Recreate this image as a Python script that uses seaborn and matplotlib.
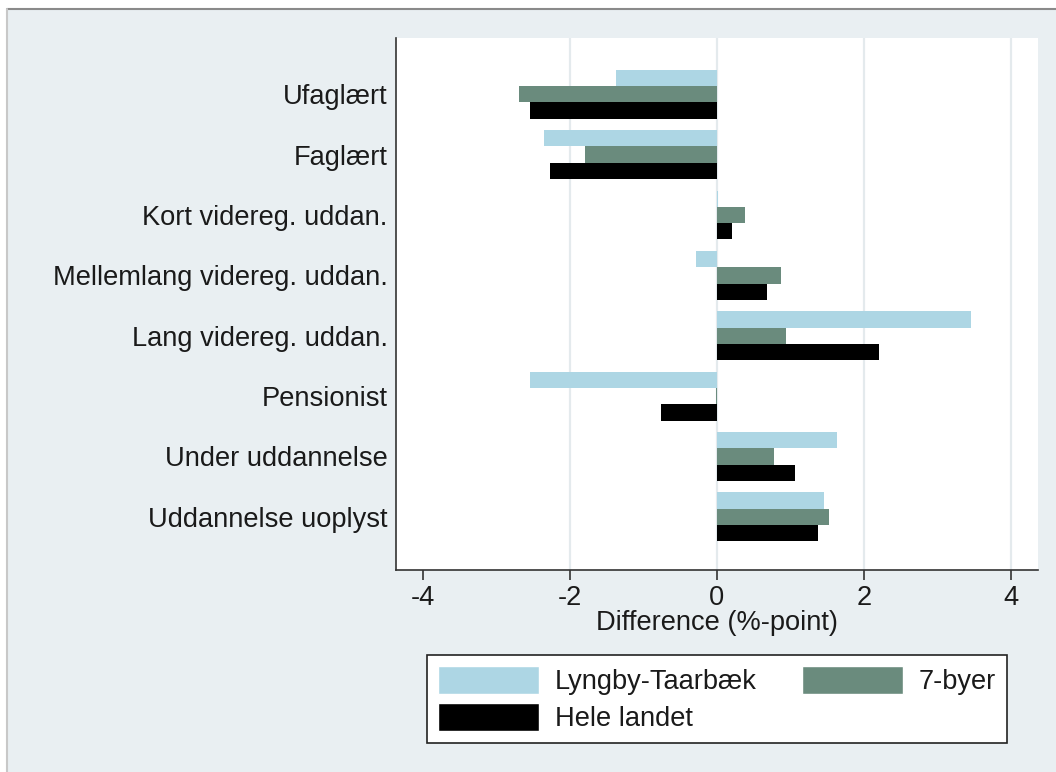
import numpy as np
import pandas as pd
import matplotlib
matplotlib.use("Agg")
import matplotlib.pyplot as plt
from matplotlib.patches import Rectangle, Patch
import seaborn as sns

categories = ["Ufaglært", "Faglært", "Kort videreg. uddan.", "Mellemlang videreg. uddan.",
              "Lang videreg. uddan.", "Pensionist", "Under uddannelse", "Uddannelse uoplyst"]
series = ["Lyngby-Taarbæk", "7-byer", "Hele landet"]
lyngby = [-1.38, -2.36, 0.01, -0.29, 3.46, -2.55, 1.63, 1.46]
syv_byer = [-2.69, -1.80, 0.38, 0.87, 0.94, -0.02, 0.78, 1.52]
hele_landet = [-2.54, -2.28, 0.21, 0.68, 2.20, -0.76, 1.06, 1.38]
xticks = [-4, -2, 0, 2, 4]

colors = ["#ADD6E4", "#6A8B7D", "#000000"]
bg = "#E9EFF2"
fs = 19.6

df = pd.DataFrame({
    "kategori": categories * 3,
    "gruppe": np.repeat(series, len(categories)),
    "diff": lyngby + syv_byer + hele_landet,
})

sns.set_style("white")
plt.rcParams["font.family"] = ["Liberation Sans", "DejaVu Sans"]
plt.rcParams["font.size"] = fs

fig = plt.figure(figsize=(10.56, 7.72), dpi=100)
fig.patch.set_facecolor("white")
# stata-like outer background with thin border at top/left
fig.patches.append(Rectangle((7/1056, 0), 1 - 7/1056, 1 - 9/772, transform=fig.transFigure,
                             facecolor=bg, edgecolor="none", zorder=-10))
fig.add_artist(plt.Line2D([7/1056, 1], [1 - 9/772, 1 - 9/772], color="#8a8a8a", lw=1.5))
fig.add_artist(plt.Line2D([7/1056, 7/1056], [0, 1 - 9/772], color="#c8c8c8", lw=1.5))

ax = fig.add_axes([396/1056, 1 - 570/772, (1038 - 396)/1056, (570 - 37.5)/772])
ax.set_facecolor("white")
sns.barplot(data=df, y="kategori", x="diff", hue="gruppe", hue_order=series,
            order=categories, palette=colors, saturation=1, orient="h", width=0.81,
            linewidth=0, errorbar=None, ax=ax, zorder=3)

ax.set_xlim(-4.37, 4.37)
ax.set_ylim(7.88, -0.94)
ax.set_xticks(xticks)
ax.set_xticklabels([str(t) for t in xticks])
ax.grid(axis="x", color="#E4EAED", lw=1.6, zorder=0)
ax.xaxis.get_gridlines()[0].set_visible(False)
ax.set_axisbelow(True)
for s in ["top", "right"]:
    ax.spines[s].set_visible(False)
for s in ["left", "bottom"]:
    ax.spines[s].set_color("#333333")
    ax.spines[s].set_linewidth(1.2)
ax.tick_params(axis="y", length=0, pad=6, labelsize=fs, colors="#1a1a1a")
ax.tick_params(axis="x", length=7, width=1.2, color="#333333", direction="out",
               pad=4, labelsize=fs, labelcolor="#1a1a1a", bottom=True)
ax.set_ylabel("")
ax.set_xlabel("Difference (%-point)", fontsize=fs, color="#1a1a1a", labelpad=-1)
ax.get_legend().remove()

handles = [Patch(facecolor=colors[0]), Patch(facecolor=colors[2]), Patch(facecolor=colors[1])]
labels = [series[0], series[2], series[1]]
leg = fig.legend(handles, labels, loc="lower left", ncol=2, mode="expand",
                 bbox_to_anchor=(427/1056, 1 - 743/772, 580/1056, 86/772),
                 fontsize=fs, frameon=True, fancybox=False, framealpha=1,
                 edgecolor="#222222", handlelength=3.7, handleheight=1.2,
                 handletextpad=0.6, labelspacing=0.3, borderpad=0.4,
                 borderaxespad=0, columnspacing=1.5)
leg.get_frame().set_linewidth(1.2)
for t in leg.get_texts():
    t.set_color("#1a1a1a")

fig.savefig("out.png", dpi=100, facecolor=fig.get_facecolor())
